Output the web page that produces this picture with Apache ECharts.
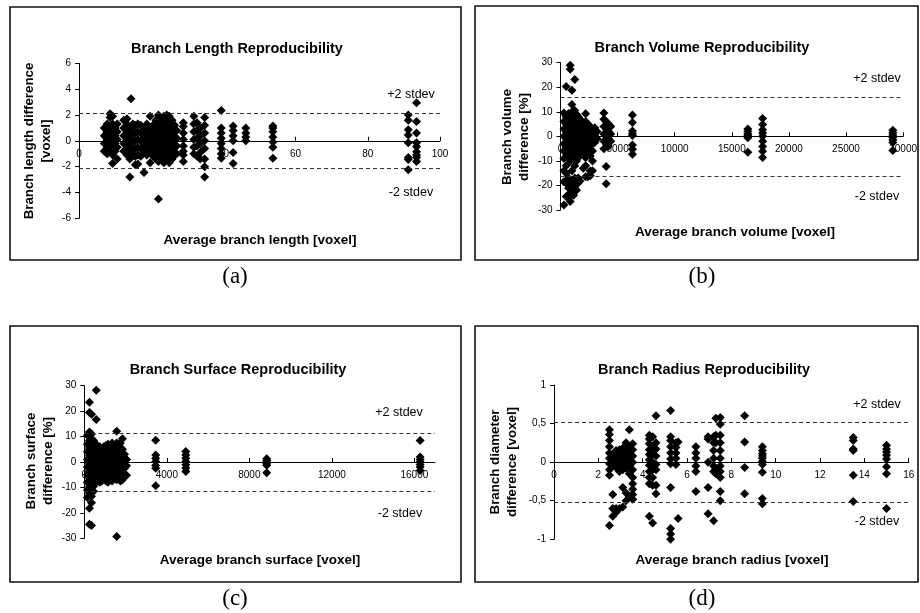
<!DOCTYPE html>
<html><head><meta charset="utf-8">
<script src="https://cdn.jsdelivr.net/npm/echarts@6/dist/echarts.min.js"></script>
<style>html,body{margin:0;padding:0;background:#fff}#c{width:920px;height:613px}</style>
</head><body><div id="c"></div>
<script>
// ---- data: each entry is [x, [y values at that x]] ----
const lengthCols = [
[7.0,[1.0,0.4,-0.2,-0.8]],
[7.8,[1.3,0.7,0.1,-0.5,-1.0]],
[8.6,[2.1,1.8,1.0,0.4,-0.2,-0.7]],
[9.3,[1.9,1.3,0.7,0.1,-0.5,-1.1,-1.75]],
[10.0,[1.0,0.4,-0.2,-0.8]],
[10.6,[1.3,0.7,0.1,-0.5,-1.4]],
[12.4,[1.6,1.0,0.4,-0.2,-0.8]],
[13.3,[1.7,1.3,0.7,0.1,-0.5,-1.1]],
[14.1,[1.0,0.4,-0.2,-0.8,-1.4,-2.8]],
[14.4,[3.25]],
[14.9,[1.3,0.7,0.1,-0.5,-1.1]],
[15.6,[1.2,0.6,0.0,-0.6,-1.2,-1.85]],
[16.3,[1.3,0.7,0.1,-0.5,-1.1,-1.8]],
[17.1,[1.2,0.6,0.0,-0.6,-1.2]],
[18.0,[1.0,0.4,-0.2,-0.8,-2.45]],
[18.8,[1.3,0.7,0.1,-0.5,-1.1]],
[19.7,[1.9,1.0,0.4,-0.2,-0.8,-1.7]],
[20.5,[1.2,0.6,0.0,-0.6,-1.2]],
[21.3,[1.6,1.0,0.4,-0.2,-0.8,-1.4]],
[22.0,[2.0,1.3,0.7,0.1,-0.5,-1.1,-1.6,-4.5]],
[22.8,[1.6,1.0,0.4,-0.2,-0.8,-1.4]],
[23.5,[1.9,1.3,0.7,0.1,-0.5,-1.1,-1.7]],
[24.3,[2.0,1.6,1.0,0.4,-0.2,-0.8,-1.4]],
[25.0,[1.9,1.3,0.7,0.1,-0.5,-1.1,-1.7]],
[25.8,[1.6,1.0,0.4,-0.2,-0.8,-1.4]],
[26.5,[1.2,0.7,0.1,-0.5,-1.1]],
[27.1,[0.8,0.2,-0.4,-1.0]],
[28.9,[1.4,1.1,0.6,0.1,-0.4,-0.8,-1.1,-1.6]],
[31.8,[1.9,1.3,0.7,0.1,-0.5,-1.0]],
[32.7,[1.4,0.8,0.2,-0.4,-1.2]],
[33.6,[1.0,0.4,-0.2,-0.9,-1.4]],
[34.8,[1.8,1.2,0.6,0.0,-0.6,-1.4,-2.0,-2.8]],
[39.4,[2.35,1.0,0.6,0.2,-0.2,-0.6,-1.0,-1.35]],
[42.7,[1.15,0.8,0.4,0.0,-0.9,-1.75]],
[46.2,[1.0,0.6,0.3,0.0]],
[53.7,[1.15,1.0,0.7,0.3,-0.1,-0.5,-1.35]],
[91.2,[2.0,1.6,0.85,0.45,-0.15,-1.3,-1.45,-2.25]],
[93.5,[2.95,1.5,0.6,-0.15,-0.45,-0.85,-1.1,-1.3,-1.6]]
];
const volumeCols = [
[300,[9.5,6,3,0,-3,-6,-9,-14,-18.5,-28]],
[500,[20.3,8,5,2,-1,-4,-7,-12,-15,-19,-24.5]],
[700,[9.3,6.5,3.5,0.5,-2.5,-5.5,-8.5,-17,-21,-25]],
[850,[29,27.3,8,5,2,-1,-4,-7,-10,-19,-23,-26.5]],
[1000,[18.8,13,10,7,4,1,-2,-5,-8,-14,-18,-22]],
[1150,[9,6,3,0,-3,-6,-9,-20,-24]],
[1250,[23.2,10.5,7.5,4.5,1.5,-1.5,-4.5,-7.5,-12,-17,-21]],
[1400,[9,6,3,0,-3,-6,-10,-18,-22]],
[1550,[8,5,2,-1,-4,-7,-17,-19]],
[1700,[7,4,1,-2,-5,-8,-18.2]],
[1850,[6,3,0,-3,-6]],
[2000,[5.5,2.5,-0.5,-3.5,-6.5,-13]],
[2200,[9.2,6,3,0,-3,-6,-8.7,-12,-16.5]],
[2400,[5,2,-1,-4,-7,-16.5]],
[2600,[4,1,-2,-5,-8,-14.1,-16]],
[2800,[3,0,-3,-6,-10,-14]],
[3000,[3.5,0.5,-2.5]],
[3200,[2,-1]],
[3800,[9.5,7,4,1,-2,-5]],
[4000,[6,3,0,-3,-12.3,-19.3]],
[4200,[5,2,-1,-4]],
[4400,[4,1,-2]],
[6300,[8.7,5.6,2.2,1.1,0.3,-3.5,-5.3,-7.3]],
[16400,[3.0,2.0,1.0,0.2,-0.6,-6.5]],
[17700,[7.3,4.8,2.7,1.4,0,-2.0,-4.1,-6.1,-8.6]],
[29100,[2.5,1.5,0.5,-0.5,-1.5,-2.5,-5.8]]
];
const surfaceCols = [
[150,[10.5,7,4,1,-2,-5,-8,-11,-14]],
[250,[23.5,19.5,11.8,8.5,5.5,2.5,-0.5,-3.5,-6.5,-9.5,-12.5,-18.2,-24.5]],
[350,[18.8,11,7,4,1,-2,-5,-8,-11,-13.5,-16,-25]],
[450,[8.5,5.5,2.5,-0.5,-3.5,-6.5,-9.5,-11.5]],
[580,[28.2,16.7,7,4,1,-2,-5,-8]],
[650,[5.5,2.5,-0.5,-3.5,-6.5]],
[750,[6,3,0,-3,-6,-8]],
[850,[4.5,1.5,-1.5,-4.5,-7.5]],
[950,[6,3,0,-3,-6]],
[1050,[6.5,3.5,0.5,-2.5,-5.5,-7.5]],
[1150,[7,4,1,-2,-5,-8]],
[1250,[5.5,2.5,-0.5,-3.5,-6.5]],
[1350,[7.5,4,1,-2,-5,-7.5]],
[1450,[6,3,0,-3,-6]],
[1570,[12.1,7.5,4.5,1.5,-1.5,-4.5,-7,-29.3]],
[1650,[6,3,0,-3,-6]],
[1750,[7.5,4.5,1.5,-1.5,-4.5,-7.5]],
[1850,[9.1,5,2,-1,-4,-7]],
[1950,[3,0,-2.5,-5]],
[2050,[1,-1.5,-5.2]],
[3460,[8.6,2.8,1.5,0.2,-1.4,-2.5,-9.3]],
[4920,[4.1,2.8,1.5,0.2,-1.1,-2.4,-3.7]],
[8840,[1.3,0.6,0,-0.6,-1.3,-4.2]],
[16280,[8.5,2,1,0,-1,-2,-3.3]]
];
const radiusCols = [
[2.5,[0.42,0.36,0.28,0.2,0.12,0.05,-0.02,-0.1,-0.17,-0.82]],
[2.65,[0.1,0.03,-0.05,-0.42,-0.6,-0.7]],
[2.8,[0.15,0.08,0.0,-0.07,-0.6,-0.65]],
[2.95,[0.16,0.1,0.03,-0.04,-0.12,-0.6]],
[3.1,[0.18,0.12,0.05,-0.02,-0.1,-0.33,-0.58]],
[3.25,[0.25,0.15,0.08,0.0,-0.08,-0.4,-0.5]],
[3.4,[0.42,0.2,0.12,0.04,-0.05,-0.15,-0.45]],
[3.55,[0.24,0.16,0.08,0.0,-0.1,-0.2,-0.28,-0.35,-0.42,-0.48]],
[4.3,[0.35,0.3,0.24,0.16,0.1,0.03,-0.04,-0.12,-0.2,-0.28,-0.7]],
[4.45,[0.33,0.2,0.1,0.0,-0.1,-0.2,-0.3,-0.79]],
[4.6,[0.6,0.25,0.17,0.08,-0.03,-0.1,-0.3,-0.41]],
[5.26,[0.67,0.33,0.28,0.2,0.12,0.04,-0.02,-0.33,-0.86,-0.93,-1.0]],
[5.5,[0.25,0.19,0.12,0.05,-0.03]],
[5.6,[0.26,-0.73]],
[6.4,[0.2,0.12,0.05,-0.05,-0.12,-0.38]],
[6.95,[0.33,0.3,0.0,-0.33,-0.67]],
[7.2,[0.33,0.25,0.15,0.05,-0.05,-0.12,-0.76]],
[7.3,[0.57,0.35,0.25,-0.08,-0.15]],
[7.5,[0.58,0.49,0.35,0.25,0.15,0.05,-0.05,-0.12,-0.2,-0.38,-0.5]],
[8.6,[0.6,0.26,-0.07,-0.41]],
[9.4,[0.2,0.15,0.11,0.08,0.05,0.01,-0.03,-0.13,-0.47,-0.54]],
[13.5,[0.32,0.28,0.17,0.15,-0.17,-0.51]],
[15.0,[0.22,0.17,0.13,0.09,0.04,-0.06,-0.15,-0.6]]
];
const stdevLimits = [2.15, 16.1, 11.5, 0.515];
const titles = ['Branch Length Reproducibility','Branch Volume Reproducibility','Branch Surface Reproducibility','Branch Radius Reproducibility'];
const yNames = ['Branch length difference\n[voxel]','Branch volume\ndifference [%]','Branch surface\ndifference [%]','Branch diameter\ndifference [voxel]'];
const xNames = ['Average branch length [voxel]','Average branch volume [voxel]','Average branch surface [voxel]','Average branch radius [voxel]'];
const captions = ['(a)','(b)','(c)','(d)'];
const xRanges = [[0,100,20],[0,30000,5000],[0,17000,4000],[0,16,2]];
const yRanges = [[-6,6,2],[-30,30,10],[-30,30,10],[-1,1,0.5]];

// ---- layout ----
const L = [
  {grid:{left:79,top:63.3,width:361,height:155}, box:[10,7,451,253], title:[237,49], yName:[38,141], xName:[260,240], plus:[411,95], minus:[411,193], cap:[235,277]},
  {grid:{left:560.5,top:62.7,width:350,height:147.3}, box:[475,6,443,254], title:[702,48], yName:[516,137], xName:[735,232], plus:[877,79], minus:[877,197], cap:[702,277]},
  {grid:{left:84.3,top:385.7,width:350.7,height:152.6}, box:[10,326,451,256], title:[238,370], yName:[39.5,461], xName:[260,560], plus:[399,413], minus:[400,514], cap:[235,599]},
  {grid:{left:554,top:385,width:354.7,height:154.3}, box:[475,326,443,256], title:[704,370], yName:[504,462], xName:[732,560], plus:[877,405], minus:[877,522], cap:[702,599]}
];
const sans = '"Liberation Sans", Arial, sans-serif';
const fmts = [
  v => String(v),
  v => String(v),
  v => (v % 4000 === 0 ? String(v) : ''),
  v => String(v).replace('.', ',')
];
const allCols = [lengthCols, volumeCols, surfaceCols, radiusCols];

const grids = [], xAxes = [], yAxes = [], series = [], graphics = [];
function txt(x, y, text, font, extra) {
  return Object.assign({type:'text', x:x, y:y, silent:true, z:100,
    style:{text:text, font:font, fill:'#000', textAlign:'center', textVerticalAlign:'middle', align:'center', verticalAlign:'middle'}}, extra || {});
}
for (let i = 0; i < 4; i++) {
  const l = L[i];
  grids.push(l.grid);
  // x axis placed at y = 0 (middle of the symmetric y range)
  const zeroOffset = -l.grid.height * (yRanges[i][1] / (yRanges[i][1] - yRanges[i][0]));
  xAxes.push({type:'value', gridIndex:i, min:xRanges[i][0], max:xRanges[i][1], interval:xRanges[i][2],
    position:'bottom', offset:zeroOffset,
    axisLine:{show:true, onZero:false, lineStyle:{color:'#000', width:1}},
    axisTick:{show:true, inside:true, length:4, lineStyle:{color:'#000'}},
    axisLabel:{fontSize:10, color:'#000', fontFamily:sans, margin:8, formatter:fmts[i], showMaxLabel: i !== 2},
    splitLine:{show:false}});
  yAxes.push({type:'value', gridIndex:i, min:yRanges[i][0], max:yRanges[i][1], interval:yRanges[i][2],
    axisLine:{show:true, onZero:false, lineStyle:{color:'#000', width:1}},
    axisTick:{show:true, inside:false, length:4, lineStyle:{color:'#000'}},
    axisLabel:{fontSize:10, color:'#000', fontFamily:sans, margin:8, formatter: i === 3 ? fmts[3] : (v => String(v))},
    splitLine:{show:false}});
  const pts = [];
  allCols[i].forEach(c => c[1].forEach(y => pts.push([c[0], y])));
  series.push({type:'scatter', xAxisIndex:i, yAxisIndex:i, data:pts, symbol:'diamond', symbolSize:9,
    itemStyle:{color:'#000', opacity:1}, silent:true, z:3,
    markLine:{silent:true, symbol:['none','none'], label:{show:false},
      lineStyle:{type:[4,3], color:'#333', width:1},
      data:[{yAxis:stdevLimits[i]},{yAxis:-stdevLimits[i]}]}});
  graphics.push({type:'rect', silent:true, z:0, shape:{x:l.box[0], y:l.box[1], width:l.box[2], height:l.box[3]},
    style:{fill:'none', stroke:'#111', lineWidth:1.6}});
  graphics.push(txt(l.title[0], l.title[1], titles[i], 'bold 14.5px ' + sans));
  graphics.push(txt(l.yName[0], l.yName[1], yNames[i], 'bold 13.3px ' + sans, {rotation:Math.PI/2}));
  graphics.push(txt(l.xName[0], l.xName[1], xNames[i], 'bold 13.5px ' + sans));
  graphics.push(txt(l.plus[0], l.plus[1], '+2 stdev', '12.5px ' + sans));
  graphics.push(txt(l.minus[0], l.minus[1], '-2 stdev', '12.5px ' + sans));
  graphics.push(txt(l.cap[0], l.cap[1], captions[i], '23px "Liberation Serif", serif'));
}
graphics.forEach(g => { if (g.style && g.style.text && g.style.text.indexOf('\n') >= 0) g.style.lineHeight = 17; });

const chart = echarts.init(document.getElementById('c'), null, {renderer:'canvas'});
chart.setOption({animation:false, backgroundColor:'#fff', grid:grids, xAxis:xAxes, yAxis:yAxes, series:series, graphic:{elements:graphics}});
</script>
</body></html>
